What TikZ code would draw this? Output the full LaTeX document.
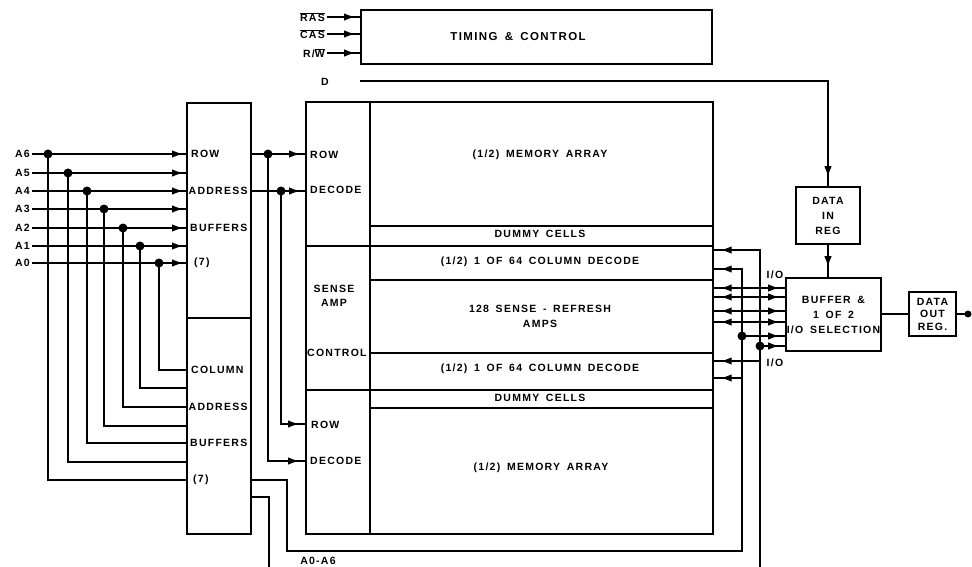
\documentclass[tikz,border=0pt]{standalone}
\usepackage{fontspec}
\newfontfamily\lbf[LetterSpace=12,WordSpace=1.6]{Liberation Sans}
\usetikzlibrary{arrows.meta,decorations.markings}
\newcommand\ovl[1]{$\overline{\mbox{#1}}$}
\tikzset{
  mytip/.tip={Latex[length=11pt,width=7.5pt]},
  box/.style={draw, line width=1.7pt, inner sep=0pt, rectangle},
  wire/.style={line width=1.4pt},
  lbl/.style={inner sep=0pt, font=\lbf\bfseries\fontsize{10.5}{15}\selectfont, align=center},
  biglbl/.style={inner sep=0pt, font=\lbf\bfseries\fontsize{11.5}{14}\selectfont},
  dotn/.style={circle, fill, inner sep=0pt, minimum size=9pt},
  tipat/.style={postaction={decorate, decoration={markings, mark=at position #1 with {\arrow{mytip}}}}},
  tipback/.style={postaction={decorate, decoration={markings, mark=at position #1 with {\arrowreversed{mytip}}}}},
}
\begin{document}
\begin{tikzpicture}[x=1pt,y=-1pt]
\fill[white] (0,0) rectangle (972,567);
\useasboundingbox (0,0) rectangle (972,567);

% ---------- timing & control ----------
\node[box, anchor=north west, minimum width=351pt, minimum height=54pt] (tc) at (360,9) {};
\node[biglbl] (tctext) at (518,37) {TIMING \& CONTROL};
\node[lbl, anchor=east] (ras) at (325,17) {\ovl{RAS}};
\node[lbl, anchor=east] (cas) at (325,34) {\ovl{CAS}};
\node[lbl, anchor=east] (rw) at (325,53) {R/\ovl{W}};
\foreach \s in {ras,cas,rw}
  \draw[wire, tipat=-5pt, shorten <=2pt] (\s.east) -- (tc.west |- \s.east);

% ---------- address buffers ----------
\node[box, anchor=north west, minimum width=64pt, minimum height=215pt] (rowbuf) at (186,102) {};
\node[box, anchor=north west, minimum width=64pt, minimum height=216pt] (colbuf) at (186,317) {};
\node[lbl, anchor=west] at (191,154) {ROW};
\node[lbl, anchor=west] at (188.5,191) {ADDRESS};
\node[lbl, anchor=west] at (190,228) {BUFFERS};
\node[lbl, anchor=west] at (194,263) {(7)};
\node[lbl, anchor=west] at (191,370) {COLUMN};
\node[lbl, anchor=west] at (188.5,407) {ADDRESS};
\node[lbl, anchor=west] at (190,443) {BUFFERS};
\node[lbl, anchor=west] at (193,480) {(7)};

% ---------- memory block ----------
\node[box, anchor=north west, minimum width=64pt, minimum height=144pt] (rdec1) at (305,101) {};
\node[box, anchor=north west, minimum width=64pt, minimum height=144pt] (samp) at (305,245) {};
\node[box, anchor=north west, minimum width=64pt, minimum height=144pt] (rdec2) at (305,389) {};
\node[box, anchor=north west, minimum width=343pt, minimum height=124pt] (mem1) at (369,101) {};
\node[box, anchor=north west, minimum width=343pt, minimum height=20pt] (dum1) at (369,225) {};
\node[box, anchor=north west, minimum width=343pt, minimum height=34pt] (cd1) at (369,245) {};
\node[box, anchor=north west, minimum width=343pt, minimum height=73pt] (sa) at (369,279) {};
\node[box, anchor=north west, minimum width=343pt, minimum height=37pt] (cd2) at (369,352) {};
\node[box, anchor=north west, minimum width=343pt, minimum height=18pt] (dum2) at (369,389) {};
\node[box, anchor=north west, minimum width=343pt, minimum height=126pt] (mem2) at (369,407) {};

\node[lbl, anchor=west] at (310,155) {ROW};
\node[lbl, anchor=west] at (310,190) {DECODE};
\node[lbl] at (334,296) {SENSE\\[-1pt]AMP};
\node[lbl, anchor=west] at (307,353) {CONTROL};
\node[lbl, anchor=west] at (311,425) {ROW};
\node[lbl, anchor=west] at (310,461) {DECODE};

\node[lbl] at (540,155) {(1/2) MEMORY ARRAY};
\node[lbl] at (540,234) {DUMMY CELLS};
\node[lbl] at (540,262) {(1/2) 1 OF 64 COLUMN DECODE};
\node[lbl] at (540,316.5) {128 SENSE - REFRESH\\AMPS};
\node[lbl] at (540,369) {(1/2) 1 OF 64 COLUMN DECODE};
\node[lbl] at (540,398) {DUMMY CELLS};
\node[lbl] at (541,468) {(1/2) MEMORY ARRAY};

% ---------- address inputs ----------
\foreach \n/\y/\dx/\cy in {6/154/48/480, 5/173/68/462, 4/191/87/443, 3/209/104/426,
                           2/228/123/407, 1/246/140/388, 0/263/159/370} {
  \node[lbl, anchor=east] (a\n) at (30,\y) {A\n};
  \node[dotn] (d\n) at (\dx,\y) {};
  \draw[wire, tipat=-3pt, shorten <=2pt] (a\n.east) -- (rowbuf.west |- a\n.east);
  \draw[wire] (d\n.center) |- (colbuf.west |- 0,\cy);
}

% ---------- row buffer to row decoders ----------
\node[dotn] (r1) at (268,154) {};
\node[dotn] (r2) at (281,191) {};
\draw[wire, tipat=-5pt] (rowbuf.east |- r1) -- (rdec1.west |- r1);
\draw[wire, tipat=-5pt] (rowbuf.east |- r2) -- (rdec1.west |- r2);
\draw[wire, tipat=-6pt] (r1.center) |- (rdec2.west |- 0,461);
\draw[wire, tipat=-6pt] (r2.center) |- (rdec2.west |- 0,424);

% ---------- column buffer outputs / buses ----------
\draw[wire, tipat=-7pt] (colbuf.east |- 0,480) -| (287,551) -| (742,269) -- (sa.east |- 0,269);
\draw[wire] (colbuf.east |- 0,497) -| (269,567);
\draw[wire, tipat=-7pt] (760,567) |- (sa.east |- 0,250);
\node[lbl] (aa) at (318,561) {A0-A6};

% ---------- I/O buffer ----------
\node[box, lbl, minimum width=95pt, minimum height=73pt] (buf) at (833.5,314.5) {BUFFER \&\\1 OF 2\\I/O SELECTION};
\node[box, lbl, minimum width=64pt, minimum height=57pt] (din) at (828,215.5) {DATA\\IN\\REG};
\node[box, lbl, font=\lbf\bfseries\fontsize{10.5}{12.5}\selectfont, minimum width=47pt, minimum height=44pt] (dout) at (932.5,314) {DATA\\OUT\\REG.};

\foreach \y in {288,297,311,322}
  \draw[wire, tipback=7pt, tipat=-6pt] (sa.east |- 0,\y) -- (buf.west |- 0,\y);
\node[dotn] (t1) at (742,336) {};
\node[dotn] (t2) at (760,346) {};
\draw[wire, tipat=-6pt] (t1.center) -- (buf.west |- t1);
\draw[wire, tipat=-6pt] (t2.center) -- (buf.west |- t2);
\coordinate (b1) at (760,361);
\coordinate (b2) at (742,378);
\draw[wire, tipat=-7pt] (b1) -- (cd2.east |- b1);
\draw[wire, tipat=-7pt] (b2) -- (cd2.east |- b2);
\node[lbl] at (775,275) {I/O};
\node[lbl] at (775,363) {I/O};

% ---------- data in / out ----------
\node[lbl] (dl) at (325,82) {D};
\coordinate (dstart) at (360,81);
\draw[wire, tipat=-9pt] (dstart) -| (din.north);
\draw[wire, tipat=-10pt] (din.south) -- (din.south |- buf.north);
\draw[wire] (buf.east |- dout.west) -- (dout.west);
\node[dotn, minimum size=7pt] (outdot) at (968,314) {};
\draw[wire] (dout.east) -- (outdot.center);
\end{tikzpicture}
\end{document}
